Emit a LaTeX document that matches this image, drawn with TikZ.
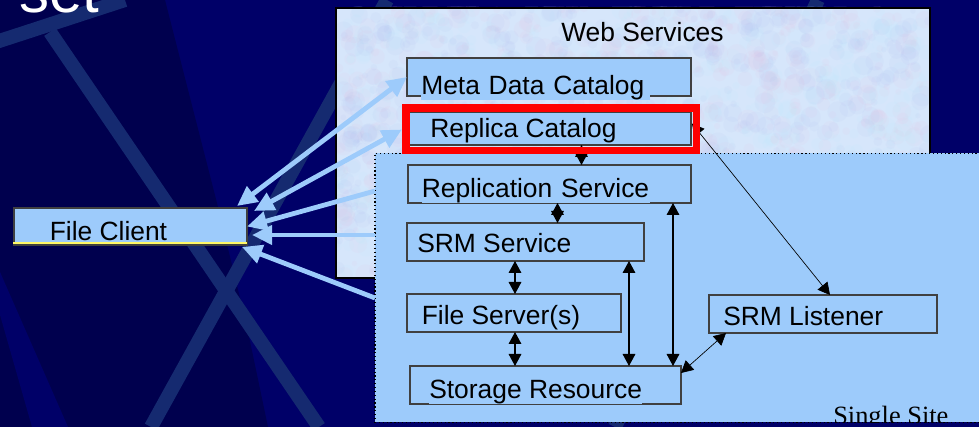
\documentclass[tikz,border=0pt]{standalone}
\usepackage{fontspec}
\setmainfont{Liberation Sans}
\newfontfamily\sitefont{Liberation Serif}
\usetikzlibrary{arrows.meta}
\definecolor{navy}{HTML}{000068}
\definecolor{deepnavy}{HTML}{00004E}
\definecolor{stripe}{HTML}{152A70}
\definecolor{boxblue}{HTML}{9DCBFB}
\definecolor{mottlebase}{HTML}{D6E6FB}
\definecolor{mottlepink}{HTML}{E9B9DD}
\definecolor{mottlecyan}{HTML}{B5F0FF}
\definecolor{mottleblue}{HTML}{A9B7EE}
\tikzset{
    mybox/.style={
    draw=black!75,
    line width=.8pt,
    fill=boxblue,
    anchor=north west,
    inner sep=0pt,
    outer sep=0pt
  },
    mylabel/.style={
    font=\fontsize{19.8}{24}\selectfont,
    anchor=base west,
    inner sep=0pt,
    fill=boxblue
  },
    bgstripe/.style={
    stripe,
    line width=10.5pt
  },
    feed/.style={
    boxblue,
    line width=3.6pt,
    >={Triangle[length=15pt,width=14pt]}
  },
    link/.style={
    <->,
    black,
    line width=.8pt,
    >={Triangle[length=9pt,width=9.5pt]}
  },
    thinlink/.style={
    link,
    line width=.5pt
  }
}

\begin{document}
\begin{tikzpicture}[x=.75pt,y=-.75pt]
  \useasboundingbox (0,0) rectangle (979,427);
  \clip (0,0) rectangle (979,427);

  \fill[navy] (0,0) rectangle (979,427);
  \fill[deepnavy] (0,0) -- (165,0) -- (217,203) -- (247,327) -- (268,427) -- (0,427) -- cycle;
  \fill[navy] (0,272) -- (68,427) -- (32,427) -- (0,315) -- cycle;
  \draw[bgstripe] (-10,44) -- (125,0);
  \draw[bgstripe] (50,32) -- (319,427);
  \draw[bgstripe] (151,427) -- (387,0);
  \draw[bgstripe] (818,0) -- (615,427);

  \node[anchor=base west,inner sep=0pt,white,font=\fontsize{45}{50}\selectfont] (n_title) at (19,13) {set};

  \begin{scope}
    \clip (335,7) rectangle (929,277);
    \fill[mottlebase] (335,7) rectangle (929,277);
    \pgfmathsetseed{11}
    \foreach \shade in {mottlepink,mottlecyan,mottleblue} {
      \foreach \i in {1,...,650} {
        \pgfmathsetmacro{\px}{335+594*rnd}
        \pgfmathsetmacro{\py}{7+270*rnd}
        \pgfmathsetmacro{\pr}{2+6*rnd}
        \fill[\shade,opacity=.08] (\px,\py) circle[radius=\pr pt];
      }
    }
  \end{scope}
  \node[draw=black,line width=1.5pt,anchor=north west,inner sep=0pt,minimum width=445.5pt,minimum height=202.5pt] (n_web) at (335,7) {};

  \node[mybox,minimum width=174.75pt,minimum height=27.75pt] (n_client) at (14,208) {};
  \node[mybox,minimum width=213pt,minimum height=28.5pt] (n_meta) at (407,58) {};
  \node[mybox,minimum width=211.5pt,minimum height=24.75pt] (n_replica) at (409,112) {};
  \node[anchor=north west,inner sep=0pt,outer sep=0pt,minimum width=224.25pt,minimum height=38.25pt] (n_frame) at (402,104) {};

  \node[anchor=north west,fill=boxblue,draw=black,dotted,line width=.9pt,inner sep=0pt,outer sep=0pt,minimum width=480pt,minimum height=201.75pt] (n_site) at (375,153.5) {};
  \coordinate (s_a) at (375,191);
  \coordinate (s_b) at (375,235);
  \coordinate (s_c) at (375,298);

  \draw[feed,<->] ([shift={(-10,-2)}]n_client.north east) -- (n_meta.west);
  \draw[feed,<->] ([shift={(7,3)}]n_client.north east) -- (n_frame.west);
  \draw[feed,<-] (n_client.east) -- (s_a);
  \draw[feed,<-] ([shift={(5,8.5)}]n_client.east) -- (s_b);
  \draw[feed,<-] ([shift={(-5,2)}]n_client.south east) -- (s_c);

  \node[mybox,minimum width=212.25pt,minimum height=28.5pt] (n_replication) at (408,165) {};
  \node[mybox,minimum width=177.75pt,minimum height=28.5pt] (n_srm) at (407,223) {};
  \node[mybox,minimum width=160.5pt,minimum height=28.5pt] (n_files) at (407,294) {};
  \node[mybox,minimum width=171pt,minimum height=28.5pt] (n_listener) at (709,295) {};
  \node[mybox,minimum width=203.25pt,minimum height=28.5pt] (n_storage) at (410,366) {};

  \draw[link] ([shift={(31.5,0)}]n_replica.south) -- ([shift={(32,0)}]n_replication.north);
  \draw[link] ([shift={(8,0)}]n_replication.south) -- ([shift={(32,0)}]n_srm.north);
  \draw[link] ([shift={(-10.5,0)}]n_srm.south) -- ([shift={(1,0)}]n_files.north);
  \draw[link] ([shift={(1,0)}]n_files.south) -- ([shift={(-30.5,0)}]n_storage.north);
  \draw[link] ([shift={(103.5,0)}]n_srm.south) -- ([shift={(83.5,0)}]n_storage.north);
  \draw[link] ([shift={(123.5,0)}]n_replication.south) -- ([shift={(127.5,0)}]n_storage.north);
  \draw[thinlink] ([shift={(1,-5)}]n_replica.east) -- ([shift={(7,0)}]n_listener.north);
  \draw[thinlink] ([shift={(0,7)}]n_storage.north east) -- ([shift={(17,0)}]n_listener.south west);

  \draw[red,line width=5.8pt] ([shift={(3.8,3.8)}]n_frame.north west) rectangle ([shift={(-4.5,-4.5)}]n_frame.south east);

  \node[mylabel,fill=none] (t_web) at (561,41.5) {Web Services};
  \node[mylabel,text width=171.75pt] (t_meta) at (421,94.3) {Meta Data Catalog};
  \node[mylabel] (t_replica) at (430,137.7) {Replica Catalog};
  \node[mylabel,text width=171pt] (t_replication) at (421.5,197.7) {Replication Service};
  \node[mylabel] (t_srm) at (417,253) {SRM Service};
  \node[mylabel] (t_files) at (421.5,325) {File Server(s)};
  \node[mylabel] (t_listener) at (723,325.7) {SRM Listener};
  \node[mylabel] (t_storage) at (429,399) {Storage Resource};
  \node[mylabel] (t_client) at (49.5,240.7) {File Client};

  \draw[yellow!60,line width=1.1pt] ([shift={(-1,-2)}]n_client.south west) -- ([shift={(0,-2)}]n_client.south east);

  \begin{scope}
    \clip (375,153.5) rectangle (979,423);
    \node[mylabel,fill=none,font=\sitefont\fontsize{19.8}{24}\selectfont] (t_site) at (833,424.6) {Single Site};
  \end{scope}
\end{tikzpicture}
\end{document}
